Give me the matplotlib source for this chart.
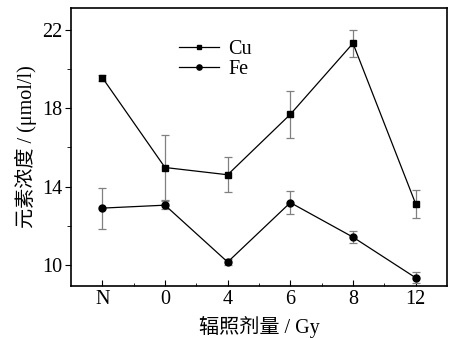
import matplotlib
matplotlib.use("Agg")
import matplotlib.pyplot as plt

plt.rcParams['font.family'] = ['Liberation Serif', 'Noto Sans CJK SC']

# data
doses = ["N", "0", "4", "6", "8", "12"]
cu = [19.55, 14.97, 14.6, 17.68, 21.3, 13.12]
cu_err = [0.15, 1.65, 0.9, 1.2, 0.7, 0.7]
fe = [12.9, 13.05, 10.15, 13.18, 11.42, 9.35]
fe_err = [1.05, 0.2, 0.15, 0.58, 0.3, 0.28]

x = list(range(len(doses)))

fig = plt.figure(figsize=(4.59, 3.38), dpi=100)
ax = fig.add_axes([71 / 459, 1 - 286 / 338, 376 / 459, 278 / 338])

ax.errorbar(x, cu, yerr=cu_err, fmt='none', ecolor='#808080', elinewidth=0.9,
            capsize=3, capthick=0.9)
ax.errorbar(x, fe, yerr=fe_err, fmt='none', ecolor='#808080', elinewidth=0.9,
            capsize=3, capthick=0.9)
ax.plot(x, cu, '-s', color='black', lw=0.9, ms=4.5, label='Cu')
ax.plot(x, fe, '-o', color='black', lw=0.9, ms=5, label='Fe')

ax.set_xlim(-0.5, 5.5)
ax.set_ylim(8.93, 23.1)
ax.set_xticks(x)
ax.set_xticklabels(doses)
ax.set_xticks([i + 0.5 for i in x[:-1]], minor=True)
ax.set_yticks([10, 14, 18, 22])
ax.set_yticks([12, 16, 20], minor=True)

ax.tick_params(axis='x', which='both', direction='in', top=False, labelsize=14.5, pad=3)
ax.tick_params(axis='x', which='major', length=4)
ax.tick_params(axis='x', which='minor', length=2.5)
ax.tick_params(axis='y', which='both', direction='out', right=False, labelsize=14.5, pad=2)
ax.tick_params(axis='y', which='major', length=4)
ax.tick_params(axis='y', which='minor', length=3)
for s in ax.spines.values():
    s.set_linewidth(1.2)

ax.set_xlabel('辐照剂量 / Gy', fontsize=14.5, labelpad=5)
ax.set_ylabel('元素浓度 / (μmol/l)', fontsize=14.5, labelpad=4)

ax.legend(loc='upper left', bbox_to_anchor=(0.265, 0.915), frameon=False,
          fontsize=14.5, handlelength=2.0, handletextpad=0.45, labelspacing=0.05,
          borderaxespad=0, markerscale=0.75)

fig.savefig('out.png', dpi=100)
